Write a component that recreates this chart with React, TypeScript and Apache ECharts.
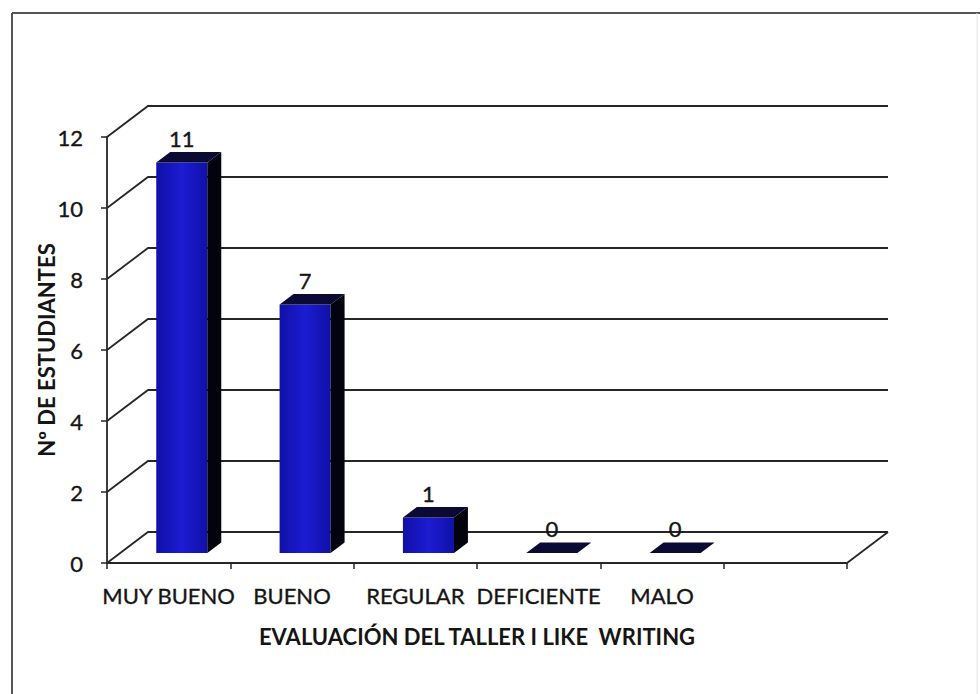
import React, { useEffect, useRef } from "react";
import * as echarts from "echarts";

// Workshop evaluation results
const categories = ["MUY BUENO", "BUENO", "REGULAR", "DEFICIENTE", "MALO", ""];
const students = [11, 7, 1, 0, 0];
const yTicks = [0, 2, 4, 6, 8, 10, 12];

const xTitle = "EVALUACIÓN DEL TALLER I LIKE  WRITING";
const yTitle = "Nº DE ESTUDIANTES";

// depth vector of the pseudo-3D floor (front edge -> back wall), in px
const DX = 41;
const DY = -31;
const FONT = "Lato, 'Open Sans', sans-serif";
const LINE = "#262626";
const INK = "#151515";
// a hairline outline in the same ink makes the text slightly heavier
const heavy = { textBorderColor: INK, textBorderWidth: 0.35 };

export default function App() {
  const ref = useRef<HTMLDivElement>(null);

  useEffect(() => {
    if (!ref.current) return;
    const chart = echarts.init(ref.current, null, { renderer: "svg" });

    const wallSeries = {
      type: "custom",
      silent: true,
      z: 1,
      data: yTicks.map((v) => [0, v]),
      renderItem: (params: any, api: any) => {
        const v = api.value(1);
        const p = api.coord([0, v]);
        const cs = params.coordSys;
        const xl = cs.x;
        const xr = cs.x + cs.width;
        const y = p[1];
        const style = { stroke: LINE, lineWidth: 1.8, fill: null };
        const children: any[] = [
          {
            type: "polyline",
            shape: { points: [[xl, y], [xl + DX, y + DY], [xr + DX, y + DY]] },
            style,
          },
        ];
        if (v === 0) {
          children.push({
            type: "line",
            shape: { x1: xr, y1: y, x2: xr + DX, y2: y + DY },
            style,
          });
        }
        return { type: "group", children };
      },
    };

    const barSeries = {
      type: "custom",
      z: 3,
      data: students.map((v, i) => [i, v]),
      renderItem: (params: any, api: any) => {
        const idx = api.value(0);
        const v = api.value(1);
        const base = api.coord([idx, 0]);
        const top = api.coord([idx, v]);
        const band = api.size([1, 0])[0];
        const w = band * 0.414;
        const f0 = 0.32;
        const f1 = 0.66;
        const x0 = base[0] - w / 2 + DX * f0;
        const x1 = x0 + w;
        const yb = base[1] + DY * f0;
        const yt = top[1] + DY * f0;
        const ox = DX * (f1 - f0);
        const oy = DY * (f1 - f0);
        const children: any[] = [];
        if (yb - yt > 0.5) {
          children.push({
            type: "rect",
            shape: { x: x0, y: yt, width: w, height: yb - yt },
            style: {
              fill: {
                type: "linear",
                x: 0,
                y: 0,
                x2: 1,
                y2: 0,
                colorStops: [
                  { offset: 0, color: "#1010a8" },
                  { offset: 0.5, color: "#1c1cd2" },
                  { offset: 1, color: "#1010a8" },
                ],
              },
            },
          });
          children.push({
            type: "polygon",
            shape: {
              points: [
                [x1, yt],
                [x1 + ox, yt + oy],
                [x1 + ox, yb + oy],
                [x1, yb],
              ],
            },
            style: { fill: "#03030e" },
          });
        }
        children.push({
          type: "polygon",
          shape: {
            points: [
              [x0, yt],
              [x0 + ox, yt + oy],
              [x1 + ox, yt + oy],
              [x1, yt],
            ],
          },
          style: { fill: "#0a0a34" },
        });
        children.push({
          type: "text",
          x: x0 + w / 2,
          y: yt + oy - 14,
          style: {
            text: String(v),
            fontSize: 22,
            fontFamily: FONT,
            fill: INK,
            stroke: INK,
            lineWidth: 0.35,
            align: "center",
            verticalAlign: "middle",
          },
        });
        return { type: "group", children };
      },
    };

    chart.setOption({
      animation: false,
      backgroundColor: "#ffffff",
      textStyle: { fontFamily: FONT },
      graphic: [
        {
          type: "line",
          shape: { x1: 12, y1: 13, x2: 980, y2: 13 },
          style: { stroke: "#555", lineWidth: 2 },
        },
        {
          type: "line",
          shape: { x1: 12, y1: 13, x2: 12, y2: 694 },
          style: { stroke: "#555", lineWidth: 2 },
        },
        {
          type: "line",
          shape: { x1: 977, y1: 13, x2: 977, y2: 694 },
          style: { stroke: "#e6e6e6", lineWidth: 1 },
        },
      ],
      grid: {
        left: 107,
        right: 133,
        top: 137,
        bottom: 131,
        containLabel: false,
        outerBoundsMode: "none",
      },
      xAxis: {
        type: "category",
        data: categories,
        boundaryGap: true,
        name: xTitle,
        nameLocation: "middle",
        nameGap: 62,
        nameMoveOverlap: false,
        nameTextStyle: { fontSize: 22, fontWeight: "bold", color: INK, fontFamily: FONT },
        axisLine: { show: true, lineStyle: { color: LINE, width: 1.8 } },
        axisTick: { show: true, length: 6, interval: 0, lineStyle: { color: LINE, width: 1.5 } },
        axisLabel: { interval: 0, margin: 21, fontSize: 22, color: INK, fontFamily: FONT, ...heavy },
        splitLine: { show: false },
      },
      yAxis: {
        type: "value",
        min: 0,
        max: 12,
        interval: 2,
        name: yTitle,
        nameLocation: "middle",
        nameRotate: 90,
        nameGap: 50,
        nameMoveOverlap: false,
        nameTextStyle: { fontSize: 22, fontWeight: "bold", color: INK, fontFamily: FONT },
        axisLine: { show: true, lineStyle: { color: LINE, width: 1.8 } },
        axisTick: { show: true, length: 6, lineStyle: { color: LINE, width: 1.5 } },
        axisLabel: { margin: 24, fontSize: 22, color: INK, fontFamily: FONT, ...heavy },
        splitLine: { show: false },
      },
      series: [wallSeries, barSeries],
    } as any);

    return () => chart.dispose();
  }, []);

  return (
    <div
      ref={ref}
      style={{ position: "fixed", left: 0, top: 0, width: 980, height: 694, background: "#fff" }}
    />
  );
}
